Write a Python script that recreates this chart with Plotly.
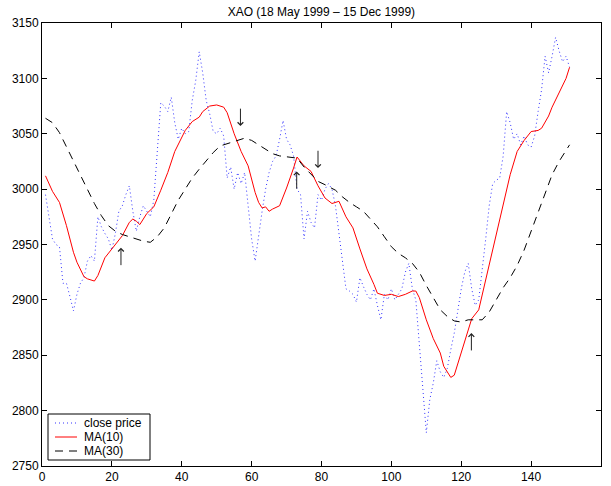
import plotly.graph_objects as go

# ---- data ----
close_price = [
    2995, 2975, 2955, 2950, 2948, 2915, 2915, 2903, 2890, 2905,
    2915, 2920, 2935, 2940, 2935, 2975, 2966, 2960, 2955, 2945,
    2960, 2980, 2985, 2995, 3003, 2980, 2962, 2975, 2985, 2980,
    2975, 2990, 3030, 3078, 3075, 3070, 3083, 3060, 3045, 3055,
    3050, 3052, 3080, 3098, 3124, 3105, 3080, 3068, 3052, 3050,
    3055, 3048, 3010, 3020, 3000, 3015, 3005, 3015, 2985, 2955,
    2935, 2960, 2980, 3000, 3015, 3025, 3030, 3045, 3062, 3045,
    3040, 3030, 3000, 2995, 2955, 2980, 2970, 2965, 2995, 2990,
    3000, 3005, 3000, 2985, 2960, 2935, 2910, 2908, 2905, 2898,
    2920, 2912, 2905, 2900, 2910, 2895, 2882, 2905, 2900, 2910,
    2900, 2905, 2910, 2925, 2933, 2910, 2900, 2860, 2820, 2780,
    2810, 2825, 2845, 2835, 2830, 2838, 2855, 2870, 2890, 2910,
    2925, 2933, 2910, 2895, 2900, 2925, 2955, 2985, 3005, 3008,
    3010, 3030, 3070, 3060, 3045, 3050, 3040, 3048, 3040, 3038,
    3048, 3070, 3090, 3120, 3105, 3120, 3137, 3125, 3115, 3120,
    3110,
]
days = list(range(1, len(close_price) + 1))

ma10_days = [1, 3, 5, 7, 9, 10, 12, 13, 15, 16, 18, 20, 21, 23, 25, 26, 27, 28, 30, 32,
             34, 36, 38, 40, 41, 43, 45, 46, 48, 50, 52, 53, 55, 57, 59, 61, 62, 63, 64, 65,
             66, 68, 70, 72, 73, 75, 77, 79, 81, 83, 85, 87, 89, 91, 93, 95, 96, 98, 100, 102,
             104, 106, 107, 108, 110, 112, 114, 115, 117, 118, 120, 122, 123, 125, 127, 129, 132, 134, 136, 138,
             140, 142, 143, 145, 146, 148, 150, 151]
ma10 = [3012, 2998, 2988, 2967, 2943, 2934, 2921, 2919, 2917, 2922, 2938, 2946, 2949, 2958, 2970, 2973, 2971, 2968, 2978, 2984,
        2999, 3015, 3034, 3046, 3053, 3061, 3065, 3070, 3075, 3076, 3074, 3069, 3050, 3034, 3021, 2997, 2988, 2983, 2984, 2980,
        2982, 2985, 3001, 3019, 3029, 3021, 3016, 3003, 2992, 2987, 2989, 2975, 2965, 2946, 2928, 2914, 2906, 2904, 2905, 2903,
        2905, 2908, 2908, 2902, 2882, 2865, 2852, 2840, 2830, 2832, 2852, 2874, 2883, 2891, 2918, 2945, 2985, 3013, 3034, 3044,
        3052, 3053, 3055, 3066, 3074, 3087, 3100, 3110]

ma30_days = [1, 3, 5, 7, 9, 11, 13, 15, 17, 19, 21, 23, 26, 29, 31, 33, 35, 37, 39, 41,
             43, 45, 47, 49, 51, 53, 55, 58, 60, 62, 64, 66, 68, 70, 73, 75, 77, 79, 81, 84,
             86, 88, 90, 92, 94, 96, 98, 100, 102, 104, 106, 108, 110, 112, 114, 116, 118, 120, 122, 124,
             126, 128, 130, 132, 134, 136, 138, 140, 142, 144, 146, 148, 150, 151]
ma30 = [3064, 3060, 3051, 3038, 3026, 3012, 2999, 2987, 2976, 2967, 2962, 2959, 2956, 2953, 2952, 2957, 2965, 2977, 2990, 3000,
        3010, 3018, 3026, 3033, 3039, 3041, 3043, 3046, 3044, 3040, 3036, 3032, 3030, 3029, 3028, 3020, 3013, 3007, 3004, 2999,
        2993, 2988, 2984, 2980, 2973, 2966, 2957, 2948, 2942, 2938, 2933, 2925, 2913, 2902, 2891, 2885, 2881, 2880, 2882, 2882,
        2882, 2889, 2900, 2911, 2920, 2931, 2945, 2962, 2978, 2996, 3013, 3025, 3035, 3040]

# crossover arrows: (x, head value, tail value)
arrow_x = [22.6, 56.8, 72.9, 79.0, 122.9]
arrow_head = [2947, 3057, 3016, 3019, 2870]
arrow_tail = [2930, 3074, 2999, 3036, 2853]

x_ticks = [0, 20, 40, 60, 80, 100, 120, 140, 160]
y_ticks = [2750, 2800, 2850, 2900, 2950, 3000, 3050, 3100, 3150]

series_names = ["close price", "MA(10)", "MA(30)"]
series_colors = ["#3333ff", "#ff0000", "#000000"]
series_dash = ["1px,3px", "solid", "8px,6px"]

FONT = "Liberation Sans, Arial, Helvetica, sans-serif"
W, H = 611, 486
ML, MR, MT, MB = 42, 10, 23, 20
PW, PH = W - ML - MR, H - MT - MB


def px_x(p):
    return (p - ML) / PW


def px_y(p):
    return (H - MB - p) / PH


fig = go.Figure()
for name, xs, ys, col, dash in zip(series_names, [days, ma10_days, ma30_days],
                                   [close_price, ma10, ma30], series_colors, series_dash):
    fig.add_trace(go.Scatter(x=xs, y=ys, mode="lines", name=name,
                             line=dict(color=col, width=1, dash=dash)))

for xa, yh, yt in zip(arrow_x, arrow_head, arrow_tail):
    fig.add_annotation(x=xa, y=yh, ax=xa, ay=yt, xref="x", yref="y", axref="x", ayref="y",
                       text="", showarrow=True, arrowhead=4, arrowsize=1.1, arrowwidth=1,
                       arrowcolor="#222222")

# legend box drawn MATLAB-style
fig.add_shape(type="rect", xref="paper", yref="paper",
              x0=px_x(48), x1=px_x(150), y0=px_y(460), y1=px_y(414),
              line=dict(color="black", width=1), fillcolor="white", layer="above")
row_y = [423, 437, 451]
for name, col, dash, ry in zip(series_names, series_colors, series_dash, row_y):
    fig.add_shape(type="line", xref="paper", yref="paper",
                  x0=px_x(55), x1=px_x(77), y0=px_y(ry), y1=px_y(ry),
                  line=dict(color=col, width=1, dash=dash), layer="above")
    fig.add_annotation(x=px_x(82), y=px_y(ry), xref="paper", yref="paper",
                       text=name, showarrow=False, xanchor="left", yanchor="middle",
                       font=dict(family=FONT, size=12, color="black"))

axis_common = dict(showline=True, linecolor="black", linewidth=1, mirror="allticks",
                   ticks="inside", ticklen=5, tickcolor="black", showgrid=False, zeroline=False,
                   automargin=False,
                   tickfont=dict(family=FONT, size=12, color="black"))

fig.update_xaxes(range=[0, 160], tickvals=x_ticks, **axis_common)
fig.update_yaxes(range=[2750, 3150], tickvals=y_ticks, **axis_common)

fig.update_layout(
    width=W, height=H,
    margin=dict(l=ML, r=MR, t=MT, b=MB),
    paper_bgcolor="white", plot_bgcolor="white",
    title=dict(text="XAO (18 May 1999 \u2013 15 Dec 1999)", x=0.526, xanchor="center",
               y=1 - 12 / H, yref="container", yanchor="middle",
               font=dict(family=FONT, size=12, color="black")),
    showlegend=False,
)

fig.write_html("out.html")
